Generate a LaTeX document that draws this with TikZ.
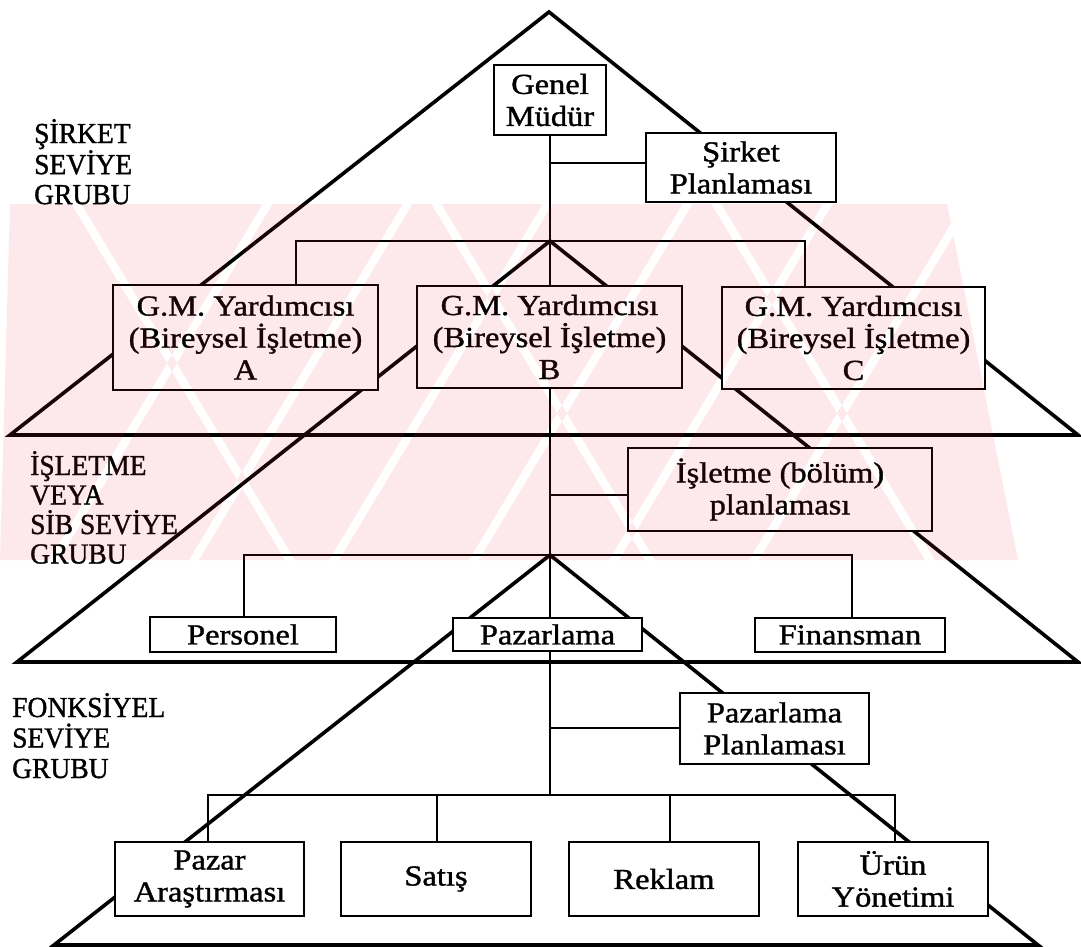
\documentclass[tikz,border=0pt]{standalone}
\usepackage{fontspec}
\setmainfont{Liberation Serif}
\newfontfamily\boxfont[FakeStretch=1.12,FakeBold=1.2]{Liberation Serif}
\newfontfamily\sidefont[FakeStretch=0.95,FakeBold=1.2]{Liberation Serif}
\definecolor{wmark}{RGB}{240,40,60}

\begin{document}
\begin{tikzpicture}[x=1pt,y=-1pt,
  tri/.style={line width=3.6pt},
  link/.style={line width=2.2pt},
  unit/.style={draw, line width=2.4pt, fill=white, inner sep=0pt, align=center,
               font=\boxfont\fontsize{29}{32}\selectfont},
  side/.style={anchor=base west, inner sep=0pt, font=\sidefont\fontsize{29}{30}\selectfont}
]
\useasboundingbox (0,0) rectangle (1081,947);

% junctions of the vertical chain
\coordinate (top) at (549,12);
\coordinate (j1) at (550,241);
\coordinate (j2) at (550,555);
\coordinate (j3) at (550,795);

% level triangles
\coordinate (t1l) at (10,435);   \coordinate (t1r) at (1078,435);
\coordinate (t2l) at (17,662);   \coordinate (t2r) at (1078,662);
\coordinate (t3l) at (54,945);   \coordinate (t3r) at (1038,945);
\draw[tri] (top) -- (t1r) -- (t1l) -- cycle;
\draw[tri] (j1) -- (t2r) -- (t2l) -- cycle;
\draw[tri] (j2) -- (t3r) -- (t3l) -- cycle;

% boxes
\node[unit, minimum width=112pt, minimum height=70pt] (gm) at (550,100) {Genel\\Müdür};
\node[unit, minimum width=190pt, minimum height=69pt] (sp) at (741,167.5) {Şirket\\Planlaması};
\node[unit, minimum width=265pt, minimum height=105pt] (ga) at (245.5,337.5) {G.M. Yardımcısı\\(Bireysel İşletme)\\A};
\node[unit, minimum width=265pt, minimum height=102pt] (gb) at (549.5,337) {G.M. Yardımcısı\\(Bireysel İşletme)\\B};
\node[unit, minimum width=263pt, minimum height=102pt] (gc) at (853.5,338) {G.M. Yardımcısı\\(Bireysel İşletme)\\C};
\node[unit, minimum width=304pt, minimum height=83pt] (ip) at (780,489.5) {İşletme (bölüm)\\planlaması};
\node[unit, minimum width=186pt, minimum height=35pt] (pe) at (243,634.5) {Personel};
\node[unit, minimum width=189pt, minimum height=33pt] (pz) at (547.5,634.5) {Pazarlama};
\node[unit, minimum width=190pt, minimum height=34pt] (fi) at (850,635) {Finansman};
\node[unit, minimum width=189pt, minimum height=71pt] (pp) at (774.5,728.5) {Pazarlama\\Planlaması};
\node[unit, minimum width=189pt, minimum height=74pt] (pa) at (209.5,879) {Pazar\\Araştırması};
\node[unit, minimum width=190pt, minimum height=74pt] (sa) at (436,879) {Satış};
\node[unit, minimum width=190pt, minimum height=74pt] (re) at (664,879) {Reklam};
\node[unit, minimum width=190pt, minimum height=74pt] (ur) at (893,879) {Ürün\\Yönetimi};

% connectors
\coordinate (spl) at (550,163);
\coordinate (ipl) at (550,495);
\coordinate (ppl) at (550,728);
\coordinate (b1l) at (296,241);  \coordinate (b1r) at (805,241);
\coordinate (b2l) at (244,555);  \coordinate (b2r) at (852,555);
\coordinate (b3a) at (208,795);  \coordinate (b3b) at (437,795);
\coordinate (b3c) at (670,795);  \coordinate (b3d) at (895,795);

\draw[link] (gm.south) -- (j1) -- (j1 |- gb.north);
\draw[link] (spl) -- (spl -| sp.west);
\draw[link] (b1l |- ga.north) -- (b1l) -- (b1r) -- (b1r |- gc.north);
\draw[link] (j1 |- gb.south) -- (j2) -- (j2 |- pz.north);
\draw[link] (ipl) -- (ipl -| ip.west);
\draw[link] (b2l |- pe.north) -- (b2l) -- (b2r) -- (b2r |- fi.north);
\draw[link] (j3 |- pz.south) -- (j3);
\draw[link] (ppl) -- (ppl -| pp.west);
\draw[link] (b3a |- pa.north) -- (b3a) -- (b3d) -- (b3d |- ur.north);
\draw[link] (b3b) -- (b3b |- sa.north);
\draw[link] (b3c) -- (b3c |- re.north);

% level names
\node[side] (lv1) at (34,143) {\vtop{\hbox{ŞİRKET}\hbox{SEVİYE}\hbox{GRUBU}}};
\node[side] (lv2) at (30,475) {\vtop{\baselineskip=29.5pt\hbox{İŞLETME}\hbox{VEYA}\hbox{SİB SEVİYE}\hbox{GRUBU}}};
\node[side] (lv3) at (12,717) {\vtop{\baselineskip=30.5pt\hbox{FONKSİYEL}\hbox{SEVİYE}\hbox{GRUBU}}};

% faint hatched band across the middle
\begin{scope}
  \clip (10,204) -- (947,204) -- (1018,560) -- (0,560) -- cycle;
  \fill[wmark, opacity=0.10, even odd rule] (-10,180) rectangle (1040,580)
    (40,575) -- (50,575) -- (284,185) -- (274,185) -- cycle
    (180,575) -- (190,575) -- (424,185) -- (414,185) -- cycle
    (320,575) -- (330,575) -- (564,185) -- (554,185) -- cycle
    (460,575) -- (470,575) -- (704,185) -- (694,185) -- cycle
    (600,575) -- (610,575) -- (844,185) -- (834,185) -- cycle
    (740,575) -- (750,575) -- (984,185) -- (974,185) -- cycle
    (60,185) -- (70,185) -- (304,575) -- (294,575) -- cycle
    (420,185) -- (430,185) -- (664,575) -- (654,575) -- cycle
    (700,185) -- (710,185) -- (944,575) -- (934,575) -- cycle;
\end{scope}
\end{tikzpicture}
\end{document}
